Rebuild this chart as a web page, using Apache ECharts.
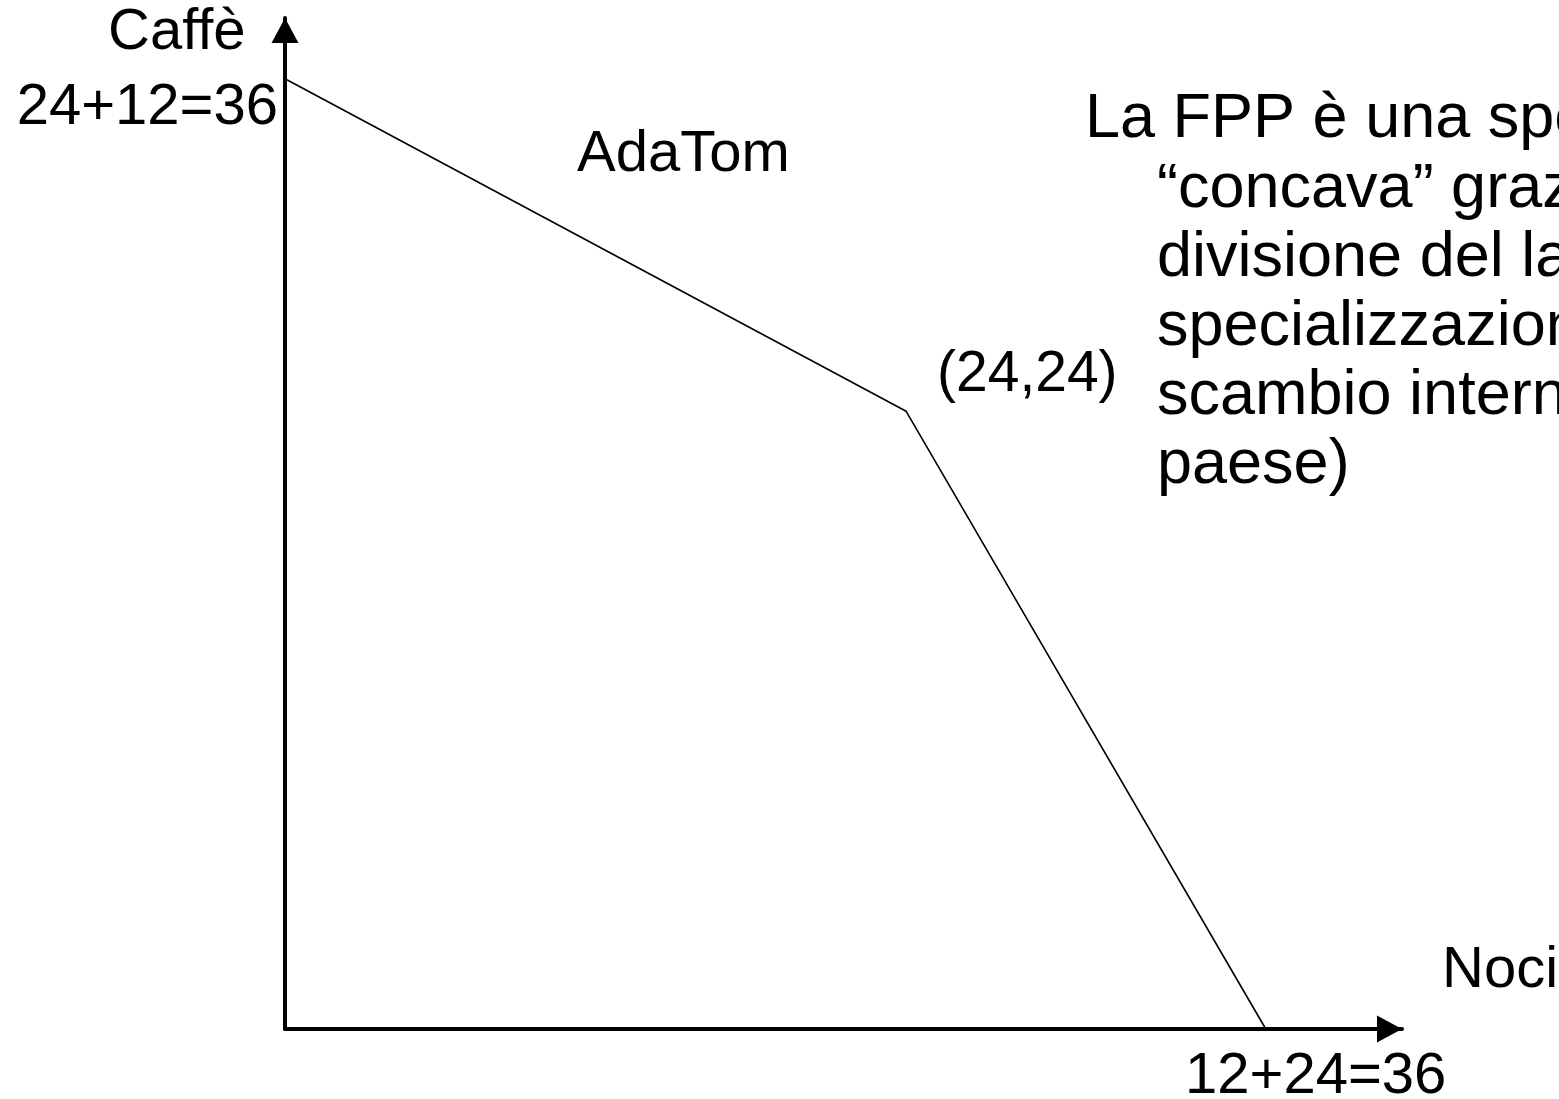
<!DOCTYPE html>
<html>
<head>
<meta charset="utf-8">
<title>FPP AdaTom</title>
<script src="https://cdn.jsdelivr.net/npm/echarts@6/dist/echarts.min.js"></script>
<style>
    html, body { margin: 0; padding: 0; background: #fff; }
    #fpp { width: 1559px; height: 1099px; }
</style>
</head>
<body>
<div id="fpp"></div>
<script>
// frontiera AdaTom: noci (x) e caffè (y)
var nociValues = [0, 22.8, 36];
var caffeValues = [36, 23.4, 0];
var yMaxLabel = '24+12=36';
var xMaxLabel = '12+24=36';
var kinkLabel = '(24,24)';
var noteLines = [
    'La FPP è una spezzata',
    '“concava” grazie alla',
    'divisione del lavoro (=',
    'specializzazione e',
    'scambio interno al',
    'paese)'
];

(function(){
    var myChart = echarts.init(document.getElementById("fpp"))
    var font = '"Liberation Sans", Arial, sans-serif';

    function txt(str, x, y, size, align) {
        return {
            type: 'text',
            x: x,
            y: y,
            style: {
                text: str,
                fill: '#000',
                font: size + 'px ' + font,
                align: align || 'left',
                verticalAlign: 'middle'
            }
        };
    }

    var texts = [
        txt('Caffè', 108, 33, 58),
        txt(yMaxLabel, 278, 108, 58, 'right'),
        txt('AdaTom', 577, 155, 58),
        txt(kinkLabel, 937, 375, 57),
        txt('Noci', 1442, 971, 58),
        txt(xMaxLabel, 1185, 1077, 58)
    ];
    // nota a destra (corpo più grande), rientro sulle righe successive
    noteLines.forEach(function (line, i) {
        texts.push(txt(line, i === 0 ? 1085 : 1157, 120 + i * 69.2, 63));
    });

    var axisLine = {
        show: true,
        symbol: ['none', 'triangle'],
        symbolSize: [27, 25],
        symbolOffset: [0, -12.5],
        lineStyle: { color: '#000', width: 4 }
    };

    option = {
        backgroundColor: '#fff',
        animation: false,
        grid: {
            left: 285,
            right: 157,
            top: 18,
            bottom: 70
        },
        xAxis: {
            type: 'value',
            min: 0,
            max: 41,
            axisLine: axisLine,
            axisTick: { show: false },
            axisLabel: { show: false },
            splitLine: { show: false }
        },
        yAxis: {
            type: 'value',
            min: 0,
            max: 38.3,
            axisLine: axisLine,
            axisTick: { show: false },
            axisLabel: { show: false },
            splitLine: { show: false }
        },
        series: [
            {
                name: 'AdaTom',
                type: 'line',
                symbol: 'none',
                lineStyle: { color: '#000', width: 1.6 },
                data: nociValues.map(function (v, i) {
                    return [v, caffeValues[i]];
                })
            }
        ],
        graphic: texts
    };
    myChart.setOption(option)
})()
</script>
</body>
</html>
